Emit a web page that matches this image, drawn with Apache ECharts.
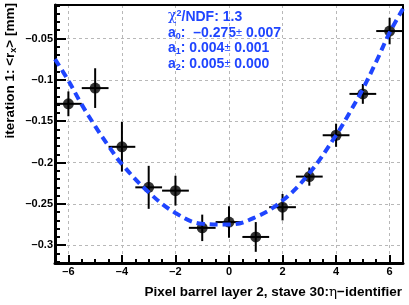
<!DOCTYPE html>
<html><head><meta charset="utf-8">
<script src="https://cdn.jsdelivr.net/npm/echarts@6/dist/echarts.min.js"></script>
<style>html,body{margin:0;padding:0;background:#fff}#c{width:409px;height:305px}</style>
</head><body><div id="c"></div>
<script>
// ---- data ----
var etaIds   = [-6, -5, -4, -3, -2, -1, 0, 1, 2, 3, 4, 5, 6];
var meanRx   = [-0.129, -0.110, -0.181, -0.230, -0.234, -0.279, -0.272, -0.290, -0.254, -0.217, -0.167, -0.117, -0.041];
var errRx    = [0.015, 0.024, 0.030, 0.026, 0.018, 0.016, 0.019, 0.018, 0.016, 0.011, 0.014, 0.012, 0.016];
var errEta   = [0.5, 0.5, 0.5, 0.5, 0.5, 0.5, 0.5, 0.5, 0.5, 0.5, 0.5, 0.5, 0.5];
// fit curve
var fitX     = [-6.5, -6, -5.5, -5, -4.5, -4, -3, -2, -1, 0, 1, 2, 3, 4, 4.5, 5, 5.5, 6, 6.5];
var fitY     = [-0.075, -0.101, -0.130, -0.156, -0.180, -0.202, -0.236, -0.261, -0.274, -0.275, -0.266, -0.246, -0.213, -0.167, -0.140, -0.111, -0.078, -0.043, -0.014];
var xTicks   = [-6, -4, -2, 0, 2, 4, 6];
var xTickLabels = ['\u20136', '\u20134', '\u20132', '0', '2', '4', '6'];
var yTicks   = [-0.3, -0.25, -0.2, -0.15, -0.1, -0.05];
var yTickLabels = ['\u20130.3', '\u20130.25', '\u20130.2', '\u20130.15', '\u20130.1', '\u20130.05'];
var xMinor = [], yMinor = [];
for (var i = -13; i <= 13; i++) xMinor.push(i * 0.5);
for (var j = -32; j <= -1; j++) yMinor.push(j / 100);
var fitParams = {chi2ndf: '1.3', a0: '\u20130.275', e0: '0.007', a1: '0.004', e1: '0.001', a2: '0.005', e2: '0.000'};

var X_MIN = -6.5, X_MAX = 6.5, Y_MIN = -0.3215, Y_MAX = -0.0095;
var FONT = '"Liberation Sans", Arial, sans-serif';
var BLUE = '#1f45ff';
var FS = 14;

function lookup(vals, labels, v) {
  for (var k = 0; k < vals.length; k++) if (Math.abs(vals[k] - v) < 1e-9) return labels[k];
  return '';
}

var pts = etaIds.map(function (x, k) { return [x, meanRx[k], errRx[k], errEta[k]]; });
var fit = fitX.map(function (x, k) { return [x, fitY[k]]; });

var chart = echarts.init(document.getElementById('c'), null, {renderer: 'canvas'});
var grid = {left: 55, right: 6, top: 5, bottom: 42};
var baseX = {type: 'value', min: X_MIN, max: X_MAX, gridIndex: 0};
var baseY = {type: 'value', min: Y_MIN, max: Y_MAX, gridIndex: 0};

function paramLine(y, idx, val, err, sep) {
  return {
    type: 'text', x: 168, y: y,
    style: {
      text: '{t|a}{sub|' + idx + '}{t|:' + sep + val + '}{pm|\u00b1}{t| ' + err + '}',
      align: 'left', verticalAlign: 'middle',
      rich: {
        t: {fontFamily: FONT, fontWeight: 'bold', fontSize: FS, fill: BLUE, lineHeight: 16},
        sub: {fontFamily: FONT, fontWeight: 'bold', fontSize: 9, fill: BLUE, verticalAlign: 'bottom', lineHeight: 16},
        pm: {fontFamily: FONT, fontSize: 11, fill: BLUE, lineHeight: 16}
      }
    }
  };
}

chart.setOption({
  animation: false,
  grid: grid,
  xAxis: [
    Object.assign({}, baseX, {
      position: 'bottom',
      axisLine: {show: true, onZero: false, lineStyle: {color: '#000', width: 3}},
      axisTick: {show: true, inside: true, length: 8, customValues: xTicks, lineStyle: {color: '#000', width: 2}},
      axisLabel: {show: true, customValues: xTicks, margin: 3, color: '#000', fontFamily: FONT, fontWeight: 'bold', fontSize: 11,
        formatter: function (v) { return lookup(xTicks, xTickLabels, v); }},
      splitLine: {show: true, lineStyle: {color: '#b8b8b8', width: 1, type: [3, 3]}}
    }),
    Object.assign({}, baseX, {
      position: 'bottom',
      axisLine: {show: false, onZero: false},
      axisTick: {show: true, inside: true, length: 4, customValues: xMinor, lineStyle: {color: '#000', width: 2}},
      axisLabel: {show: false}, splitLine: {show: false}
    }),
    Object.assign({}, baseX, {
      position: 'top',
      axisLine: {show: true, onZero: false, lineStyle: {color: '#000', width: 2}},
      axisTick: {show: false}, axisLabel: {show: false}, splitLine: {show: false}
    })
  ],
  yAxis: [
    Object.assign({}, baseY, {
      position: 'left',
      axisLine: {show: true, onZero: false, lineStyle: {color: '#000', width: 3}},
      axisTick: {show: true, inside: true, length: 11, customValues: yTicks, lineStyle: {color: '#000', width: 2}},
      axisLabel: {show: true, customValues: yTicks, margin: 2, color: '#000', fontFamily: FONT, fontWeight: 'bold', fontSize: 11,
        formatter: function (v) { return lookup(yTicks, yTickLabels, v); }},
      splitLine: {show: true, lineStyle: {color: '#b8b8b8', width: 1, type: [3, 3]}}
    }),
    Object.assign({}, baseY, {
      position: 'left',
      axisLine: {show: false, onZero: false},
      axisTick: {show: true, inside: true, length: 5, customValues: yMinor, lineStyle: {color: '#000', width: 2}},
      axisLabel: {show: false}, splitLine: {show: false}
    }),
    Object.assign({}, baseY, {
      position: 'right',
      axisLine: {show: true, onZero: false, lineStyle: {color: '#000', width: 2}},
      axisTick: {show: false}, axisLabel: {show: false}, splitLine: {show: false}
    })
  ],
  series: [
    {
      type: 'custom', xAxisIndex: 0, yAxisIndex: 0, data: pts, z: 3, clip: true,
      renderItem: function (params, api) {
        var x = api.value(0), y = api.value(1), ey = api.value(2), ex = api.value(3);
        var a = api.coord([x - ex, y]), b = api.coord([x + ex, y]);
        var c = api.coord([x, y - ey]), d = api.coord([x, y + ey]);
        var st = {stroke: '#000', lineWidth: 2};
        return {type: 'group', children: [
          {type: 'line', shape: {x1: a[0], y1: a[1], x2: b[0], y2: b[1]}, style: st},
          {type: 'line', shape: {x1: c[0], y1: c[1], x2: d[0], y2: d[1]}, style: st}
        ]};
      }
    },
    {
      type: 'scatter', xAxisIndex: 0, yAxisIndex: 0, data: pts, symbol: 'circle', symbolSize: 11, z: 4,
      itemStyle: {color: '#000'}
    },
    {
      type: 'line', xAxisIndex: 0, yAxisIndex: 0, data: fit, smooth: 0.4, showSymbol: false, z: 5, clip: true,
      lineStyle: {color: BLUE, width: 4, type: [8, 5]}
    }
  ],
  graphic: [
    {
      type: 'text', x: 10, y: 3, rotation: Math.PI / 2,
      style: {
        text: '{m|iteration 1: <r}{s|x}{m|> [mm]}',
        align: 'right', verticalAlign: 'middle',
        rich: {
          m: {fontFamily: FONT, fontWeight: 'bold', fontSize: 13.5, fill: '#000', lineHeight: 16},
          s: {fontFamily: FONT, fontWeight: 'bold', fontSize: 9, fill: '#000', verticalAlign: 'bottom', lineHeight: 16}
        }
      }
    },
    {
      type: 'text', x: 402, y: 292,
      style: {
        text: '{m|Pixel barrel layer 2, stave 30:}{g|\u03b7}{m|\u2212identifier}',
        align: 'right', verticalAlign: 'middle',
        rich: {
          m: {fontFamily: FONT, fontWeight: 'bold', fontSize: 13.5, fill: '#000'},
          g: {fontFamily: '"DejaVu Serif", serif', fontSize: 13.5, fill: '#000'}
        }
      }
    },
    {
      type: 'text', x: 168, y: 16.7,
      style: {
        text: '{c|\u03c7}{sup|2}{t|/NDF: ' + fitParams.chi2ndf + '}',
        align: 'left', verticalAlign: 'middle',
        rich: {
          c: {fontFamily: '"DejaVu Serif", serif', fontSize: FS, fill: BLUE, lineHeight: 16},
          sup: {fontFamily: FONT, fontWeight: 'bold', fontSize: 9, fill: BLUE, verticalAlign: 'top', lineHeight: 16},
          t: {fontFamily: FONT, fontWeight: 'bold', fontSize: FS, fill: BLUE, lineHeight: 16}
        }
      }
    },
    paramLine(32.7, 0, fitParams.a0, fitParams.e0, '  '),
    paramLine(48.3, 1, fitParams.a1, fitParams.e1, ' '),
    paramLine(64, 2, fitParams.a2, fitParams.e2, ' ')
  ]
});
</script>
</body></html>
